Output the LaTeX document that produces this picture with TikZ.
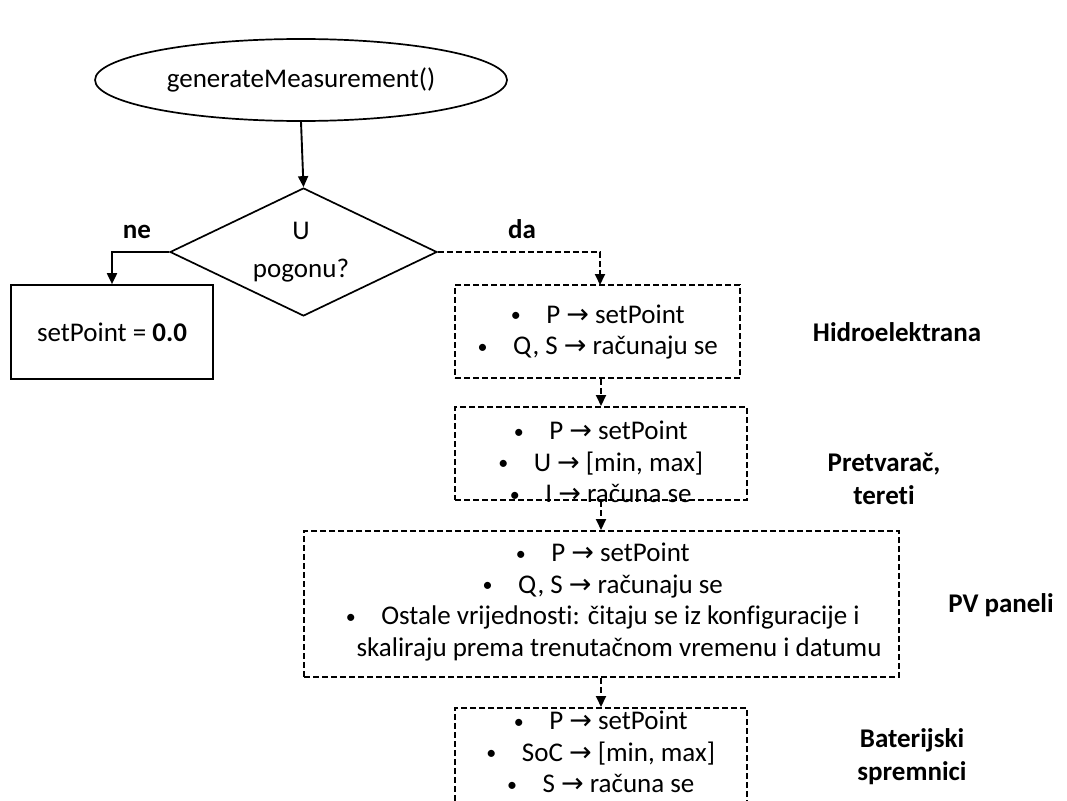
\documentclass[tikz,border=0pt]{standalone}
\usepackage{fontspec}
\setmainfont{Carlito}[Ligatures=NoCommon]
\newfontfamily\arrowfont{DejaVu Sans}
\usetikzlibrary{arrows.meta,shapes.geometric,calc}

\newcommand\bul{\makebox[9pt]{\raisebox{1.5pt}{\fontsize{20}{20}\selectfont\textbullet}}\hspace{26pt}}
\newcommand\ar{{\arrowfont\fontsize{27}{27}\selectfont →}}

\begin{document}
\begin{tikzpicture}[x=1pt,y=-1pt,
  every node/.style={font=\fontsize{27}{31.5}\selectfont},
  solidbox/.style={draw, line width=1.7pt, inner sep=0pt},
  dbox/.style={draw, line width=2pt, dash pattern=on 6pt off 3pt, inner sep=0pt},
  txt/.style={align=center, inner sep=0pt},
  side/.style={align=center, inner sep=0pt, font=\fontsize{27}{33}\selectfont\bfseries},
  flow/.style={line width=1.9pt, -{Triangle[length=11pt,width=10pt]}},
  dflow/.style={flow, dash pattern=on 6pt off 3pt}]

\clip (0,0) rectangle (1067,800);
\fill[white] (0,0) rectangle (1067,800);

% start
\node[ellipse, solidbox, minimum width=412pt, minimum height=82pt] (e) at (301,80) {generateMeasurement()};

% decision
\node[diamond, solidbox, minimum width=267pt, minimum height=128pt] (d) at (303.5,252) {};
\node[txt, font=\fontsize{27}{38}\selectfont] (dq) at (301,252) {U\\pogonu?};

% "ne" branch
\node[solidbox, minimum width=202pt, minimum height=94pt] (s) at (112,332) {setPoint = \textbf{0.0}};

% "da" branch: processing by device type
\node[dbox, minimum width=285pt, minimum height=93pt] (h1) at (597.5,331.5) {};
\node[txt] (t1) at (598,332) {\bul P \ar\ setPoint\\\bul Q, S \ar\ računaju se};

\node[dbox, minimum width=292pt, minimum height=93pt] (h2) at (601,453.5) {};
\node[txt] (t2) at (601,462) {\bul P \ar\ setPoint\\\bul U \ar\ [min, max]\\\bul I \ar\ računa se};

\node[dbox, minimum width=595pt, minimum height=146pt] (h3) at (601.5,604) {};
\node[txt] (t3) at (603,602) {\bul P \ar\ setPoint\\\bul Q, S \ar\ računaju se\\\bul Ostale vrijednosti: čitaju se iz konfiguracije i\\\hspace*{32pt}skaliraju prema trenutačnom vremenu i datumu};

\node[dbox, minimum width=292pt, minimum height=94pt] (h4) at (601,755) {};
\node[txt] (t4) at (601,752) {\bul P \ar\ setPoint\\\bul SoC \ar\ [min, max]\\\bul S \ar\ računa se};

% side labels
\node[side] (l1) at (897,332) {Hidroelektrana};
\node[side] (l2) at (884,479) {Pretvarač,\\tereti};
\node[side] (l3) at (1001,605) {PV paneli};
\node[side] (l4) at (912,757) {Baterijski\\spremnici};

% connectors
\draw[flow] (e.south) -- (d.north);
\draw[flow] (d.west) -| (s.north);
\node[side] (ne) at (137,232) {ne};
\coordinate (h1in) at (600,285);
\draw[dflow] (d.east) -| (h1in);
\node[side] (da) at (522,229) {da};
\draw[dflow] (h2.north |- h1.south) -- (h2.north);
\draw[dflow] (h2.south) -- (h2.south |- h3.north);
\draw[dflow] (h2.south |- h3.south) -- (h2.south |- h4.north);
\end{tikzpicture}
\end{document}
